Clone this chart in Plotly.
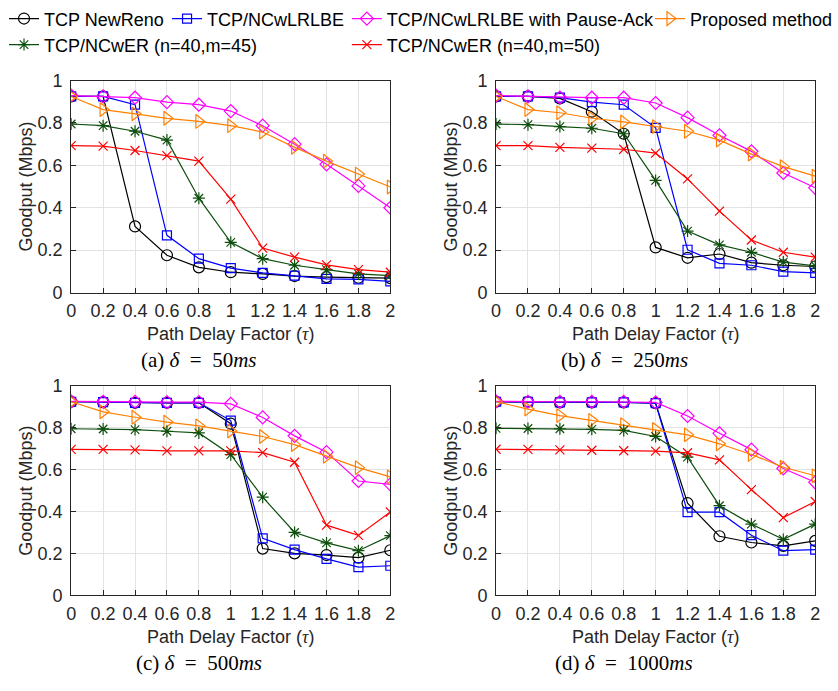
import plotly.graph_objects as go

# path delay factor (tau)
tau = [0, 0.2, 0.4, 0.6, 0.8, 1, 1.2, 1.4, 1.6, 1.8, 2]
tau_labels = ['0', '0.2', '0.4', '0.6', '0.8', '1', '1.2', '1.4', '1.6', '1.8', '2']

names = ['TCP NewReno', 'TCP/NCwLRLBE', 'TCP/NCwLRLBE with Pause-Ack',
         'Proposed method', 'TCP/NCwER (n=40,m=45)', 'TCP/NCwER (n=40,m=50)']

# goodput (Mbps), one list per series, for each delta
# (a) delta = 50ms
newreno_50 = [0.925, 0.925, 0.312, 0.176, 0.119, 0.096, 0.088, 0.078, 0.073, 0.070, 0.068]
lrlbe_50 = [0.925, 0.925, 0.886, 0.270, 0.160, 0.115, 0.093, 0.080, 0.065, 0.062, 0.053]
pause_50 = [0.929, 0.925, 0.919, 0.898, 0.886, 0.856, 0.787, 0.700, 0.605, 0.503, 0.400]
proposed_50 = [0.925, 0.863, 0.843, 0.822, 0.807, 0.787, 0.757, 0.685, 0.620, 0.559, 0.498]
er45_50 = [0.795, 0.787, 0.761, 0.719, 0.445, 0.237, 0.160, 0.129, 0.108, 0.088, 0.080]
er50_50 = [0.693, 0.691, 0.670, 0.646, 0.620, 0.441, 0.210, 0.167, 0.131, 0.108, 0.096]

# (b) delta = 250ms
newreno_250 = [0.925, 0.925, 0.916, 0.853, 0.749, 0.213, 0.164, 0.182, 0.141, 0.129, 0.123]
lrlbe_250 = [0.925, 0.925, 0.919, 0.898, 0.886, 0.777, 0.202, 0.138, 0.129, 0.099, 0.093]
pause_250 = [0.929, 0.925, 0.920, 0.919, 0.919, 0.894, 0.825, 0.742, 0.666, 0.564, 0.494]
proposed_250 = [0.925, 0.863, 0.848, 0.822, 0.805, 0.783, 0.761, 0.719, 0.653, 0.594, 0.549]
er45_250 = [0.795, 0.792, 0.783, 0.775, 0.749, 0.529, 0.290, 0.225, 0.190, 0.144, 0.126]
er50_250 = [0.693, 0.693, 0.685, 0.681, 0.676, 0.658, 0.536, 0.384, 0.248, 0.190, 0.167]

# (c) delta = 500ms
newreno_500 = [0.925, 0.923, 0.920, 0.920, 0.920, 0.820, 0.223, 0.200, 0.192, 0.180, 0.215]
lrlbe_500 = [0.925, 0.923, 0.920, 0.920, 0.920, 0.835, 0.272, 0.218, 0.174, 0.134, 0.141]
pause_500 = [0.927, 0.925, 0.925, 0.923, 0.923, 0.915, 0.850, 0.762, 0.684, 0.546, 0.530]
proposed_500 = [0.925, 0.877, 0.851, 0.828, 0.810, 0.785, 0.759, 0.720, 0.664, 0.610, 0.566]
er45_500 = [0.796, 0.795, 0.792, 0.784, 0.776, 0.672, 0.469, 0.300, 0.250, 0.213, 0.285]
er50_500 = [0.697, 0.697, 0.695, 0.690, 0.690, 0.690, 0.682, 0.636, 0.335, 0.286, 0.398]

# (d) delta = 1000ms
newreno_1000 = [0.925, 0.925, 0.922, 0.922, 0.922, 0.918, 0.440, 0.282, 0.252, 0.236, 0.260]
lrlbe_1000 = [0.925, 0.925, 0.922, 0.922, 0.922, 0.918, 0.397, 0.397, 0.287, 0.213, 0.218]
pause_1000 = [0.927, 0.925, 0.925, 0.925, 0.925, 0.922, 0.857, 0.774, 0.696, 0.606, 0.540]
proposed_1000 = [0.925, 0.890, 0.859, 0.836, 0.816, 0.793, 0.767, 0.724, 0.673, 0.612, 0.571]
er45_1000 = [0.798, 0.797, 0.796, 0.793, 0.788, 0.759, 0.660, 0.428, 0.340, 0.267, 0.340]
er50_1000 = [0.698, 0.697, 0.695, 0.693, 0.691, 0.689, 0.681, 0.647, 0.505, 0.371, 0.448]

sp = '\u2002'
panels = [
    ('(a) <i>δ</i>' + sp + '=' + sp + '50<i>ms</i>',
     [newreno_50, lrlbe_50, pause_50, proposed_50, er45_50, er50_50]),
    ('(b) <i>δ</i>' + sp + '=' + sp + '250<i>ms</i>',
     [newreno_250, lrlbe_250, pause_250, proposed_250, er45_250, er50_250]),
    ('(c) <i>δ</i>' + sp + '=' + sp + '500<i>ms</i>',
     [newreno_500, lrlbe_500, pause_500, proposed_500, er45_500, er50_500]),
    ('(d) <i>δ</i>' + sp + '=' + sp + '1000<i>ms</i>',
     [newreno_1000, lrlbe_1000, pause_1000, proposed_1000, er45_1000, er50_1000]),
]

colors = ['#000000', '#0000FF', '#FF00FF', '#FF8000', '#0E4F0E', '#FF0000']
symbols = ['circle-open', 'square-open', 'diamond-open', 'triangle-right-open',
           'asterisk-open', 'x-thin-open']
sizes = [11, 9, 10, 12, 10, 9]

W, H = 838, 691
# plot boxes in pixels: (left, right, top, bottom)
boxes = [(67, 390, 68, 288), (497, 820, 68, 288),
         (67, 390, 385, 602), (497, 820, 385, 602)]

fig = go.Figure()

for p, (caption, series) in enumerate(panels):
    ax = '' if p == 0 else str(p + 1)
    for i, ys in enumerate(series):
        fig.add_trace(go.Scatter(
            x=tau, y=ys, name=names[i], mode='lines+markers',
            xaxis='x' + ax, yaxis='y' + ax,
            line=dict(color=colors[i], width=1.2),
            marker=dict(symbol=symbols[i], size=sizes[i], color=colors[i],
                        line=dict(color=colors[i], width=1.2)),
            showlegend=(p == 0),
            legend='legend' if i == 0 else 'legend' + str(i + 1),
        ))

    l, r, t, b = boxes[p]
    axis_style = dict(showline=True, mirror=True, linecolor='#262626', linewidth=1,
                      showgrid=True, gridcolor='#E3E3E3', gridwidth=1,
                      ticks='inside', ticklen=5, tickcolor='#262626',
                      tickfont=dict(family='Liberation Sans', size=18, color='#262626'),
                      zeroline=False)
    fig.update_layout({
        'xaxis' + ax: dict(axis_style, domain=[l / W, r / W], anchor='y' + ax,
                           range=[0, 2], tickvals=tau, ticktext=tau_labels,
                           ticklabelstandoff=2,
                           title=dict(text='Path Delay Factor (<span style="font-family:Liberation Serif"><i>τ</i></span>)',
                                      font=dict(family='Liberation Sans', size=18, color='#262626'),
                                      standoff=7)),
        'yaxis' + ax: dict(axis_style, domain=[1 - b / H, 1 - t / H], anchor='x' + ax,
                           range=[0, 1], dtick=0.2, tickformat='~g',
                           ticklabelstandoff=4,
                           title=dict(text='Goodput (Mbps)',
                                      font=dict(family='Liberation Sans', size=18, color='#262626'),
                                      standoff=0)),
    })
    fig.add_annotation(text=caption, xref='paper', yref='paper',
                       x=((l + r) / 2 - 32) / W, y=1 - (b + 70) / H,
                       xanchor='center', yanchor='middle', showarrow=False,
                       font=dict(family='Liberation Serif', size=21, color='#000000'))

# legend entries: text start x, row y (pixels)
leg_pos = [(37, 4), (202, 4), (384, 4), (691, 4), (37, 31), (384, 31)]
for i, (lx, ly) in enumerate(leg_pos):
    key = 'legend' if i == 0 else 'legend' + str(i + 1)
    fig.update_layout({key: dict(x=(lx - 38) / W, y=1 - ly / H,
                                 xanchor='left', yanchor='middle',
                                 bgcolor='rgba(0,0,0,0)', borderwidth=0, itemwidth=30,
                                 font=dict(family='Liberation Sans', size=18, color='#000000'))})

fig.update_layout(width=W, height=H, margin=dict(l=0, r=0, t=0, b=0),
                  plot_bgcolor='white', paper_bgcolor='white')

# drop the browser's default body margin so the figure fills the window
fig.write_html('out.html', config={'displayModeBar': False},
               post_script="document.body.style.margin='0px';")
